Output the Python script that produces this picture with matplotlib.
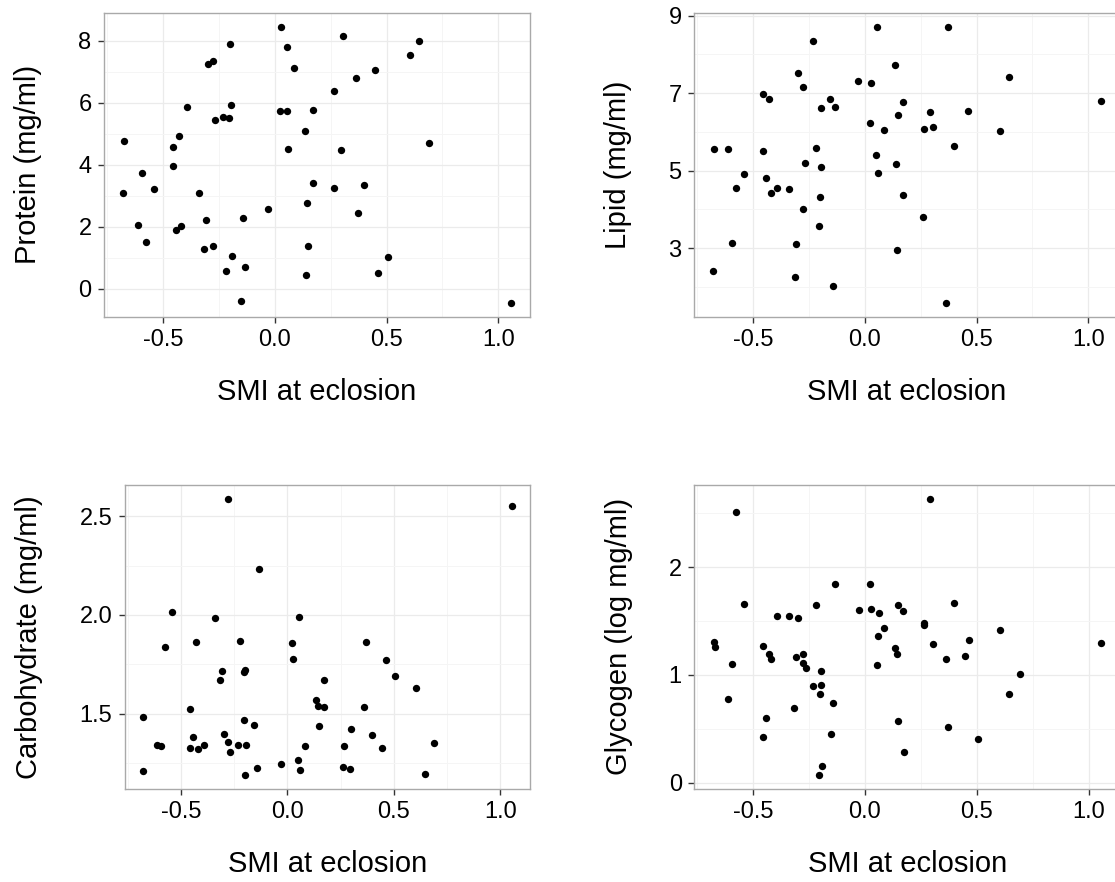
import matplotlib
matplotlib.use('Agg')
import matplotlib.pyplot as plt
import numpy as np

plt.rcParams['font.family'] = ['Liberation Sans', 'DejaVu Sans']
plt.rcParams['axes.unicode_minus'] = False

# SMI at eclosion and body composition for each female
smi_protein = [0.029, 0.057, 0.085, -0.201, -0.297, -0.275, -0.391, -0.196, -0.265, -0.232,
               -0.204, 0.025, 0.054, 0.173, 0.136, 0.061, -0.672, -0.430, -0.455, -0.457,
               -0.595, -0.677, -0.541, -0.339, 0.171, 0.146, -0.028, -0.611, -0.574, -0.442,
               -0.421, -0.306, -0.141, -0.315, -0.278, -0.191, -0.220, -0.132, 0.150, 0.140,
               -0.153, 0.304, 0.646, 0.606, 0.447, 0.363, 0.263, 0.295, 0.691, 0.266,
               0.398, 0.372, 0.508, 0.464, 1.055]
protein = [8.46, 7.79, 7.11, 7.90, 7.26, 7.36, 5.86, 5.94, 5.44, 5.55,
           5.50, 5.72, 5.72, 5.78, 5.08, 4.50, 4.76, 4.93, 4.56, 3.96,
           3.74, 3.08, 3.20, 3.10, 3.40, 2.76, 2.56, 2.06, 1.50, 1.89,
           2.02, 2.23, 2.27, 1.29, 1.39, 1.04, 0.58, 0.69, 1.39, 0.44,
           -0.40, 8.16, 7.98, 7.53, 7.07, 6.79, 6.39, 4.48, 4.70, 3.25,
           3.36, 2.44, 1.01, 0.49, -0.46]

smi_lipid = [0.057, -0.230, 0.137, -0.299, -0.278, -0.028, 0.027, -0.455, -0.430, -0.155,
             -0.196, -0.132, 0.170, 0.150, 0.025, 0.085, -0.672, -0.611, -0.455, -0.220,
             -0.266, -0.196, 0.052, 0.061, 0.140, -0.540, -0.442, -0.574, -0.420, -0.391,
             -0.338, -0.202, 0.171, -0.275, -0.205, -0.594, -0.306, 0.146, -0.677, -0.314,
             -0.141, 0.372, 0.646, 1.055, 0.293, 0.464, 0.265, 0.304, 0.606, 0.397,
             0.262, 0.363]
lipid = [8.72, 8.35, 7.74, 7.52, 7.16, 7.31, 7.27, 6.97, 6.86, 6.84,
         6.61, 6.65, 6.76, 6.44, 6.23, 6.06, 5.56, 5.57, 5.50, 5.58,
         5.21, 5.10, 5.40, 4.93, 5.17, 4.92, 4.80, 4.55, 4.42, 4.55,
         4.53, 4.31, 4.37, 4.01, 3.57, 3.14, 3.12, 2.96, 2.41, 2.26,
         2.02, 8.72, 7.41, 6.81, 6.52, 6.54, 6.08, 6.12, 6.03, 5.64,
         3.80, 1.59]

smi_carb = [-0.281, -0.133, -0.542, -0.338, 0.055, -0.577, -0.431, -0.222, 0.023, 0.025,
            -0.308, -0.316, -0.205, -0.198, 0.171, 0.134, 0.144, 0.170, -0.678, -0.458,
            -0.205, -0.156, 0.148, -0.614, -0.594, -0.444, -0.456, -0.422, -0.392, -0.299,
            -0.277, -0.268, -0.233, -0.194, 0.084, -0.677, -0.198, -0.142, -0.030, 0.050,
            0.059, 1.053, 0.370, 0.463, 0.505, 0.603, 0.361, 0.300, 0.395, 0.264,
            0.444, 0.689, 0.261, 0.292, 0.645]
carbohydrate = [2.589, 2.234, 2.014, 1.983, 1.988, 1.840, 1.864, 1.869, 1.859, 1.780,
                1.719, 1.669, 1.714, 1.722, 1.669, 1.569, 1.542, 1.535, 1.485, 1.524,
                1.470, 1.445, 1.439, 1.342, 1.335, 1.384, 1.325, 1.320, 1.345, 1.399,
                1.359, 1.305, 1.345, 1.345, 1.340, 1.209, 1.190, 1.226, 1.246, 1.265,
                1.214, 2.549, 1.861, 1.770, 1.689, 1.630, 1.535, 1.421, 1.391, 1.340,
                1.325, 1.354, 1.231, 1.221, 1.196]

smi_glyc = [-0.574, -0.541, -0.132, -0.220, -0.393, -0.338, -0.297, -0.028, 0.025, 0.029,
            0.061, 0.085, 0.057, 0.052, 0.147, 0.171, 0.136, 0.142, -0.676, -0.672,
            -0.456, -0.429, -0.420, -0.278, -0.306, -0.275, -0.265, -0.594, -0.196, -0.196,
            -0.232, -0.202, -0.141, -0.612, -0.315, -0.440, -0.454, -0.153, 0.150, 0.174,
            -0.192, -0.204, 0.293, 0.397, 0.263, 0.265, 0.606, 0.304, 0.464, 0.363,
            0.448, 1.055, 0.692, 0.646, 0.372, 0.506]
glycogen = [2.509, 1.655, 1.843, 1.645, 1.543, 1.543, 1.531, 1.599, 1.840, 1.608,
            1.578, 1.435, 1.361, 1.096, 1.652, 1.593, 1.250, 1.198, 1.306, 1.263,
            1.266, 1.194, 1.148, 1.198, 1.170, 1.115, 1.062, 1.099, 1.034, 0.911,
            0.895, 0.819, 0.744, 0.781, 0.698, 0.599, 0.426, 0.451, 0.574, 0.290,
            0.157, 0.071, 2.636, 1.667, 1.467, 1.480, 1.420, 1.284, 1.324, 1.148,
            1.180, 1.296, 1.006, 0.828, 0.522, 0.402]

W, H = 1115, 882
fig = plt.figure(figsize=(W / 100, H / 100), dpi=100)


def padded(v, frac=0.05):
    lo, hi = min(v), max(v)
    d = (hi - lo) * frac
    return lo - d, hi + d


def panel(rect, x, y, ylabel, yticks, yfmt):
    ax = fig.add_axes(rect)
    ax.scatter(x, y, s=28, color='black', linewidths=0, zorder=3)
    xt = [-0.5, 0.0, 0.5, 1.0]
    ax.set_xticks(xt)
    ax.set_xticklabels([f'{v:.1f}' for v in xt])
    ax.set_xticks([-0.75, -0.25, 0.25, 0.75], minor=True)
    ax.set_yticks(yticks)
    ax.set_yticklabels([yfmt.format(v) for v in yticks])
    step = yticks[1] - yticks[0]
    ax.set_yticks(np.arange(yticks[0] - step / 2, yticks[-1] + step, step), minor=True)
    # limits like ggplot: data range plus 5% each side
    ax.set_xlim(*padded(x))
    ax.set_ylim(*padded(y))
    ax.grid(which='major', color='#ebebeb', linewidth=0.9, zorder=0)
    ax.grid(which='minor', color='#f5f5f5', linewidth=0.7, zorder=0)
    ax.set_axisbelow(True)
    for sp in ax.spines.values():
        sp.set_color('#a9a9a9')
        sp.set_linewidth(1.0)
    ax.tick_params(which='major', length=4.5, width=1.0, color='#333333',
                   labelsize=17, labelcolor='black', pad=4.5)
    ax.tick_params(which='minor', length=0)
    ax.set_xlabel('SMI at eclosion', fontsize=21, labelpad=19)
    ax.set_ylabel(ylabel, fontsize=21, labelpad=26)
    return ax


panel([104 / W, 1 - 316.7 / H, 426 / W, 304 / H], smi_protein, protein,
      'Protein (mg/ml)', [0, 2, 4, 6, 8], '{:g}')
panel([694 / W, 1 - 316.7 / H, 426 / W, 304 / H], smi_lipid, lipid,
      'Lipid (mg/ml)', [3, 5, 7, 9], '{:g}')
panel([124.7 / W, 1 - 789 / H, 405.3 / W, 304.3 / H], smi_carb, carbohydrate,
      'Carbohydrate (mg/ml)', [1.5, 2.0, 2.5], '{:.1f}')
panel([694.3 / W, 1 - 789 / H, 426 / W, 304.3 / H], smi_glyc, glycogen,
      'Glycogen (log mg/ml)', [0, 1, 2], '{:g}')

fig.savefig('out.png', dpi=100)
